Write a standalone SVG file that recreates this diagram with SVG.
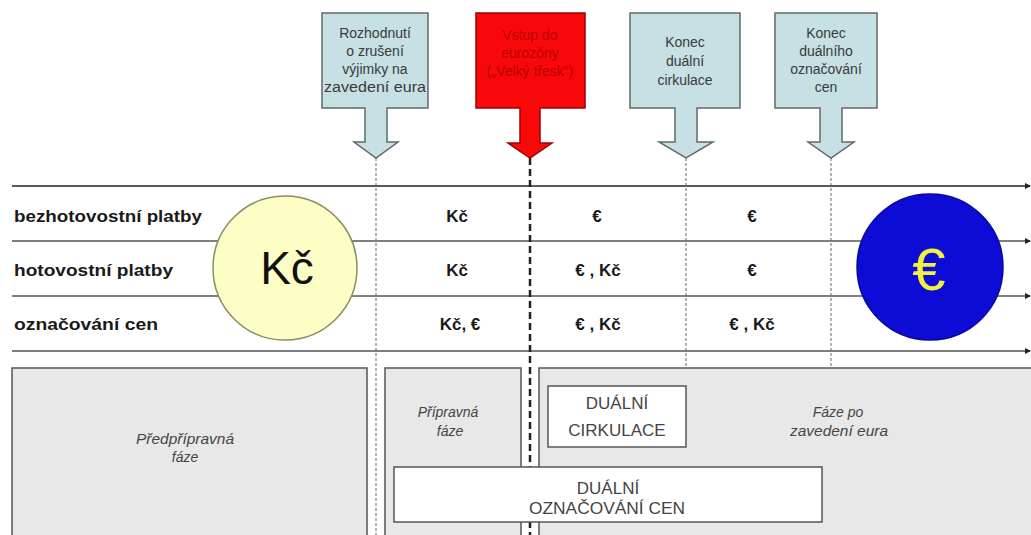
<svg xmlns="http://www.w3.org/2000/svg" width="1031" height="535" viewBox="0 0 1031 535">
<style>
.callout{fill:#c6e0e3;stroke:#5f6b6b;stroke-width:1.5}
.red{fill:#f80808;stroke:#a00000;stroke-width:1.5}
.ct{font-family:"Liberation Sans",Arial,sans-serif;font-size:14px;fill:#3a3a3a;text-anchor:middle}
.rt{font-family:"Liberation Sans",Arial,sans-serif;font-size:14px;fill:#b80000;text-anchor:middle}
.lab{font-family:"Liberation Sans",Arial,sans-serif;font-size:17px;font-weight:bold;fill:#1a1a1a}
.cell{font-family:"Liberation Sans",Arial,sans-serif;font-size:17px;font-weight:bold;fill:#1a1a1a;text-anchor:middle}
.phase{fill:#e8e8e8;stroke:#555;stroke-width:1.5}
.white{fill:#ffffff;stroke:#555;stroke-width:1.5}
.it{font-family:"Liberation Sans",Arial,sans-serif;font-size:14px;font-style:italic;fill:#444;text-anchor:middle}
.bt{font-family:"Liberation Sans",Arial,sans-serif;font-size:17px;fill:#444;text-anchor:middle}
.hl{stroke:#555;stroke-width:1.6;fill:none;marker-end:url(#ah)}
.vd{stroke:#666;stroke-width:1;stroke-dasharray:3 2;fill:none}
.vt{stroke:#222;stroke-width:2.5;stroke-dasharray:7 4;fill:none}
</style>
<defs>
<marker id="ah" markerWidth="6" markerHeight="6" refX="5" refY="3" orient="auto" markerUnits="userSpaceOnUse">
<path d="M0,0 L6,3 L0,6 Z" fill="#222"/>
</marker>
</defs>
<rect width="1031" height="535" fill="#ffffff"/>

<g id="connectors">
<line class="hl" x1="12" y1="186" x2="1030" y2="186" style="stroke:#222"/>
<line class="hl" x1="12" y1="241" x2="1030" y2="241"/>
<line class="hl" x1="12" y1="296" x2="1030" y2="296"/>
<line class="hl" x1="12" y1="351" x2="1030" y2="351"/>
<line class="vd" x1="376" y1="158" x2="376" y2="535"/>
<line class="vt" x1="530" y1="158" x2="530" y2="535"/>
<line class="vd" x1="686" y1="158" x2="686" y2="368"/>
<line class="vd" x1="831" y1="158" x2="831" y2="368"/>
</g>

<g id="callout-rozhodnuti">
<path class="callout" d="M322,13 H428 V108 H387 V142 H398 L376,158 L354,142 H365 V108 H322 Z"/>
<text class="ct" x="375" y="38">Rozhodnutí</text>
<text class="ct" x="375" y="56">o zrušení</text>
<text class="ct" x="375" y="74">výjimky na</text>
<text class="ct" x="375" y="92" textLength="102" lengthAdjust="spacingAndGlyphs">zavedení eura</text>
</g>

<g id="callout-vstup">
<path class="red" d="M476,13 H585 V108 H540 V143 H552 L530,158 L508,143 H520 V108 H476 Z"/>
<text class="rt" x="530" y="40">Vstup do</text>
<text class="rt" x="530" y="58">eurozóny</text>
<text class="rt" x="530" y="76">(„Velký třesk“)</text>
</g>

<g id="callout-konec-cirkulace">
<path class="callout" d="M630,13 H740 V108 H697 V142 H713 L686,158 L659,142 H675 V108 H630 Z"/>
<text class="ct" x="685" y="47">Konec</text>
<text class="ct" x="685" y="66">duální</text>
<text class="ct" x="685" y="85">cirkulace</text>
</g>

<g id="callout-konec-oznacovani">
<path class="callout" d="M775,13 H877 V108 H842 V142 H854 L831,158 L808,142 H820 V108 H775 Z"/>
<text class="ct" x="826" y="38">Konec</text>
<text class="ct" x="826" y="56">duálního</text>
<text class="ct" x="826" y="74">označování</text>
<text class="ct" x="826" y="92">cen</text>
</g>

<g id="row-labels">
<text class="lab" x="14" y="222" textLength="188" lengthAdjust="spacingAndGlyphs">bezhotovostní platby</text>
<text class="lab" x="14" y="276" textLength="159" lengthAdjust="spacingAndGlyphs">hotovostní platby</text>
<text class="lab" x="14" y="330" textLength="144" lengthAdjust="spacingAndGlyphs">označování cen</text>
</g>

<g id="kc-circle">
<circle cx="285" cy="268" r="72" fill="#fdfdc6" stroke="#8c8c62" stroke-width="1.5"/>
<text x="287" y="284" style="font-family:'Liberation Sans',Arial,sans-serif;font-size:46px;fill:#111;text-anchor:middle">Kč</text>
</g>

<g id="euro-circle">
<circle cx="930" cy="267" r="73" fill="#0c0cd6" stroke="#0808a0" stroke-width="1.5"/>
<text x="929" y="290" style="font-family:'Liberation Sans',Arial,sans-serif;font-size:60px;fill:#f2f23c;text-anchor:middle">€</text>
</g>

<g id="cells">
<text class="cell" x="457" y="222">Kč</text>
<text class="cell" x="457" y="276">Kč</text>
<text class="cell" x="460" y="330">Kč, €</text>
<text class="cell" x="597" y="222">€</text>
<text class="cell" x="598" y="276">€ , Kč</text>
<text class="cell" x="598" y="330">€ , Kč</text>
<text class="cell" x="752" y="222">€</text>
<text class="cell" x="752" y="276">€</text>
<text class="cell" x="752" y="330">€ , Kč</text>
</g>

<g id="phase-predpripravna">
<rect class="phase" x="12" y="368" width="355" height="180"/>
<text class="it" x="185" y="444" textLength="98" lengthAdjust="spacingAndGlyphs">Předpřípravná</text>
<text class="it" x="185" y="462">fáze</text>
</g>

<g id="phase-pripravna">
<rect class="phase" x="385" y="368" width="136" height="180"/>
<text class="it" x="448" y="417">Přípravná</text>
<text class="it" x="450" y="436">fáze</text>
</g>

<g id="phase-po-zavedeni">
<rect class="phase" x="539" y="368" width="500" height="180"/>
<text class="it" x="838" y="417">Fáze po</text>
<text class="it" x="839" y="436" textLength="98" lengthAdjust="spacingAndGlyphs">zavedení eura</text>
</g>

<g id="dualni-cirkulace">
<rect class="white" x="548" y="386" width="138" height="61"/>
<text class="bt" x="617" y="409">DUÁLNÍ</text>
<text class="bt" x="617" y="436">CIRKULACE</text>
</g>

<g id="dualni-oznacovani">
<rect class="white" x="394" y="467" width="428" height="55"/>
<text class="bt" x="608" y="494">DUÁLNÍ</text>
<text class="bt" x="607" y="514" textLength="156" lengthAdjust="spacingAndGlyphs">OZNAČOVÁNÍ CEN</text>
</g>
</svg>
